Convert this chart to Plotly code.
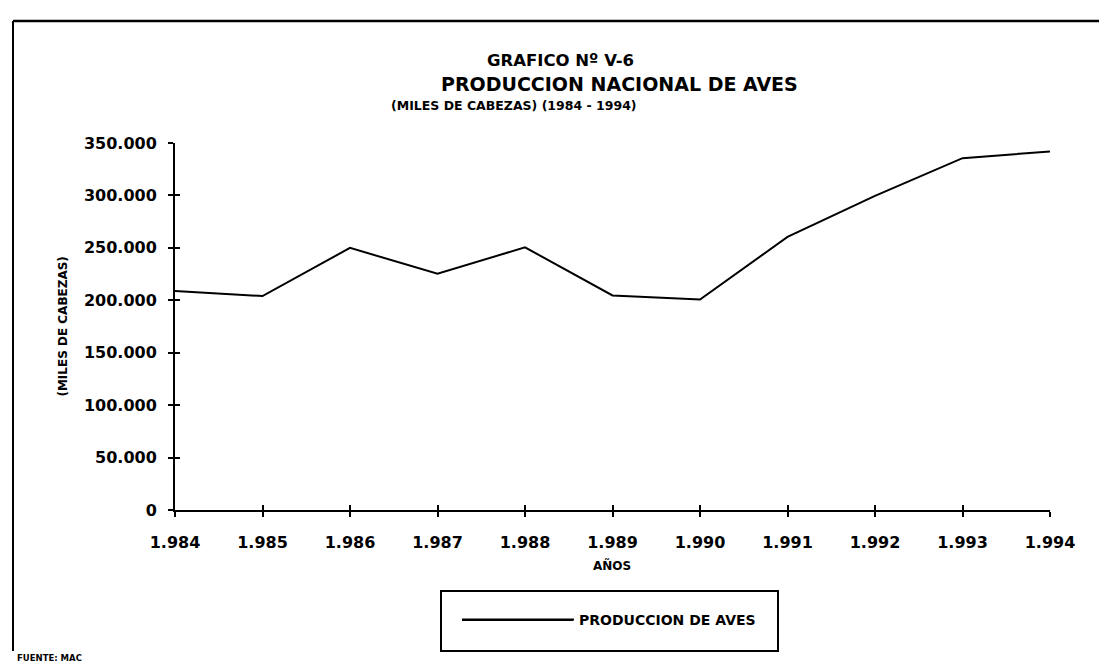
import plotly.graph_objects as go

# ---- data (miles de cabezas) ----
years = [1984, 1985, 1986, 1987, 1988, 1989, 1990, 1991, 1992, 1993, 1994]
produccion_aves = [208800, 204000, 250000, 225300, 250500, 204600, 200800, 260400, 299500, 335500, 341900]
y_ticks = [0, 50000, 100000, 150000, 200000, 250000, 300000, 350000]
series_name = "PRODUCCION DE AVES"

W, H = 1107, 664
L, R, T, B = 167, 65, 135, 162
PW, PH = W - L - R, H - T - B
FONT = "DejaVu Sans"


def px(x):
    return (x - L) / PW


def py(y):
    return (H - B - y) / PH


fig = go.Figure()
fig.add_trace(go.Scatter(
    x=years, y=produccion_aves, mode="lines", name=series_name,
    line=dict(color="black", width=2), showlegend=True,
))
# invisible trace to carry the inner tick overlay axes
fig.add_trace(go.Scatter(
    x=years, y=produccion_aves, mode="lines", xaxis="x2", yaxis="y2",
    line=dict(color="rgba(0,0,0,0)", width=0), showlegend=False, hoverinfo="skip",
))

tick_common = dict(showgrid=False, zeroline=False, tickcolor="black", tickwidth=2, ticklen=5)

fig.update_layout(
    width=W, height=H,
    margin=dict(l=L, r=R, t=T, b=B, autoexpand=False),
    paper_bgcolor="white", plot_bgcolor="white",
    separators=",.",
    font=dict(family=FONT, color="black"),
    xaxis=dict(range=[1984, 1994], tickvals=years, tickformat=",d", ticks="outside",
               showline=True, linecolor="black", linewidth=2,
               tickfont=dict(family=FONT, size=16, color="black", weight="bold"),
               ticklabelstandoff=12, **tick_common),
    yaxis=dict(range=[0, 350000], tickvals=y_ticks, tickformat=",d", ticks="outside",
               showline=True, linecolor="black", linewidth=2,
               tickfont=dict(family=FONT, size=16, color="black", weight="bold"),
               ticklabelstandoff=8, **tick_common),
    xaxis2=dict(range=[1984, 1994], tickvals=years, overlaying="x", anchor="y2", side="bottom",
                ticks="inside", showticklabels=False, showline=False, **tick_common),
    yaxis2=dict(range=[0, 350000], tickvals=y_ticks, overlaying="y", anchor="x2", side="left",
                ticks="inside", showticklabels=False, showline=False, **tick_common),
    showlegend=True,
    legend=dict(x=px(449), y=py(612), xanchor="left", yanchor="middle",
                bgcolor="rgba(0,0,0,0)", borderwidth=0, itemwidth=112,
                font=dict(family=FONT, size=14, color="black", weight="bold")),
)

anns = [
    dict(text="<b>GRAFICO Nº V-6</b>", x=px(477), y=py(52), xanchor="left", size=16.5),
    dict(text="<b>PRODUCCION NACIONAL DE AVES</b>", x=px(431), y=py(76), xanchor="left", size=19),
    dict(text="<b>(MILES DE CABEZAS) (1984 - 1994)</b>", x=px(381), y=py(98), xanchor="left", size=12.5),
    dict(text="<b>AÑOS</b>", x=px(604), y=py(557), xanchor="center", size=12),
    dict(text="<b>FUENTE: MAC</b>", x=px(7), y=py(650), xanchor="left", size=8.5),
]
for a in anns:
    fig.add_annotation(text=a["text"], x=a["x"], y=a["y"], xref="paper", yref="paper",
                       xanchor=a["xanchor"], yanchor="middle", showarrow=False,
                       font=dict(family=FONT, size=a["size"], color="black"))
fig.add_annotation(text="<b>(MILES DE CABEZAS)</b>", x=px(55), y=py(318.6), xref="paper", yref="paper",
                   textangle=-90, showarrow=False, xanchor="center", yanchor="middle",
                   font=dict(family=FONT, size=12, color="black"))

shapes = [
    # outer frame (top and left)
    dict(type="line", x0=px(5), x1=px(1107), y0=py(13), y1=py(13), line=dict(color="black", width=2.5)),
    dict(type="line", x0=px(5), x1=px(5), y0=py(13), y1=py(643), line=dict(color="black", width=2)),
    # legend box
    dict(type="rect", x0=px(433), x1=px(770), y0=py(583), y1=py(643), line=dict(color="black", width=2)),
    # extended legend sample line
    dict(type="line", x0=px(454), x1=px(565), y0=py(612), y1=py(612), line=dict(color="black", width=2)),
]
for s in shapes:
    fig.add_shape(xref="paper", yref="paper", **s)

fig.write_html("out.html")
